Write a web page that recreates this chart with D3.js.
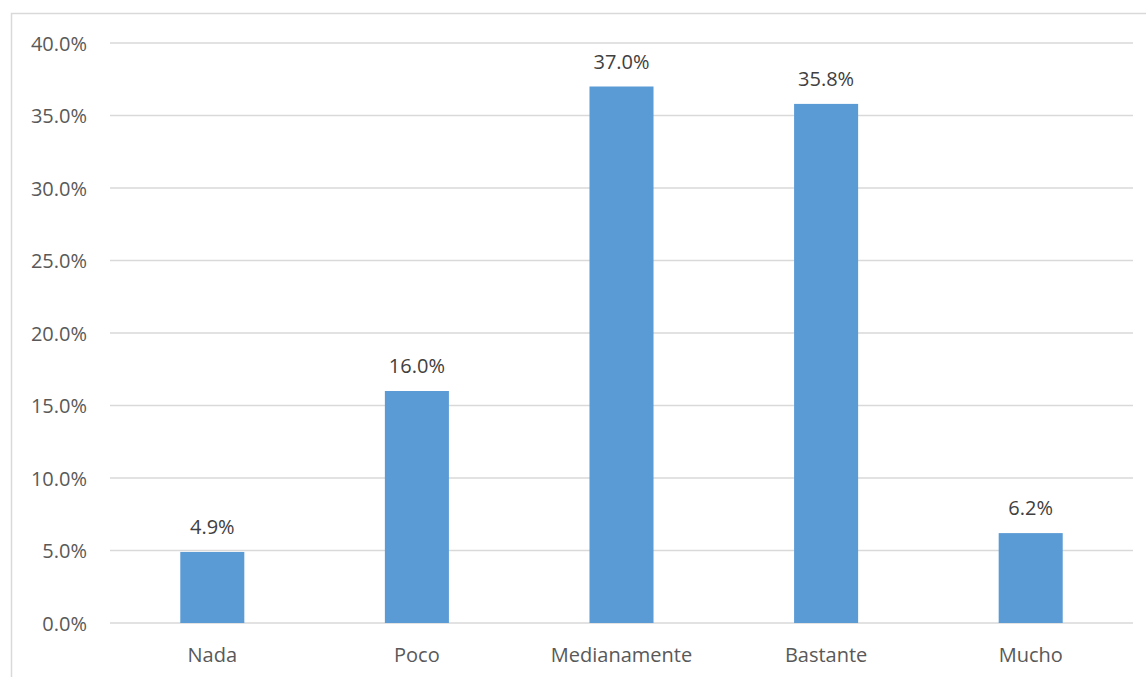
<!DOCTYPE html>
<html>
<head>
<meta charset="utf-8">
<script src="https://cdn.jsdelivr.net/npm/d3@7/dist/d3.min.js"></script>
<style>
  html, body { margin: 0; padding: 0; background: #fff; }
  svg { display: block; }
  text { font-family: "Open Sans", "Noto Sans", sans-serif; }
</style>
</head>
<body>
<svg id="chart" width="1146" height="677"></svg>
<script>
const categories = ["Nada", "Poco", "Medianamente", "Bastante", "Mucho"];
const values = [4.9, 16.0, 37.0, 35.8, 6.2];
const yTicks = [0, 5, 10, 15, 20, 25, 30, 35, 40];

(function () {
const svg = d3.select("#chart");
const W = 1146, H = 677;
const FS = "20px";

// chart border
svg.append("rect")
  .attr("x", 11.5).attr("y", 13.5)
  .attr("width", W + 20).attr("height", H + 20)
  .attr("fill", "none").attr("stroke", "#d9d9d9").attr("stroke-width", 1.5);

const pLeft = 110, pRight = 1133, pTop = 43, pBottom = 623;

const x = d3.scaleBand().domain(categories).range([pLeft, pRight])
  .paddingInner(0.687).paddingOuter(0.687 / 2);
const y = d3.scaleLinear().domain([0, 40]).range([pBottom, pTop]);

// gridlines
svg.append("g").selectAll("line").data(yTicks).join("line")
  .attr("x1", pLeft).attr("x2", pRight)
  .attr("y1", d => y(d)).attr("y2", d => y(d))
  .attr("stroke", "#d9d9d9").attr("stroke-width", 1.5);

// y axis labels
const yAxis = d3.axisLeft(y).tickValues(yTicks).tickFormat(d => d.toFixed(1) + "%").tickSize(0).tickPadding(0);
const gy = svg.append("g").attr("transform", `translate(87,0)`).call(yAxis);
gy.select(".domain").remove();
gy.selectAll("text")
  .attr("fill", "#595959").style("font-size", FS)
  .style("font-family", '"Open Sans", "Noto Sans", sans-serif')
  .attr("dy", "0.35em");

// bars
svg.append("g").selectAll("rect").data(values).join("rect")
  .attr("x", (d, i) => x(categories[i]))
  .attr("width", x.bandwidth())
  .attr("y", d => y(d))
  .attr("height", d => y(0) - y(d))
  .attr("fill", "#5b9bd5");

// data labels
svg.append("g").selectAll("text").data(values).join("text")
  .attr("x", (d, i) => x(categories[i]) + x.bandwidth() / 2)
  .attr("y", d => y(d) - 18)
  .attr("text-anchor", "middle")
  .attr("fill", "#404040").style("font-size", FS)
  .text(d => d.toFixed(1) + "%");

// x axis labels
const xAxis = d3.axisBottom(x).tickSize(0).tickPadding(0);
const gx = svg.append("g").attr("transform", `translate(0,${pBottom})`).call(xAxis);
gx.select(".domain").remove();
gx.selectAll("text")
  .attr("fill", "#595959").style("font-size", FS)
  .style("font-family", '"Open Sans", "Noto Sans", sans-serif')
  .attr("y", 39).attr("dy", 0);
})();
</script>
</body>
</html>
